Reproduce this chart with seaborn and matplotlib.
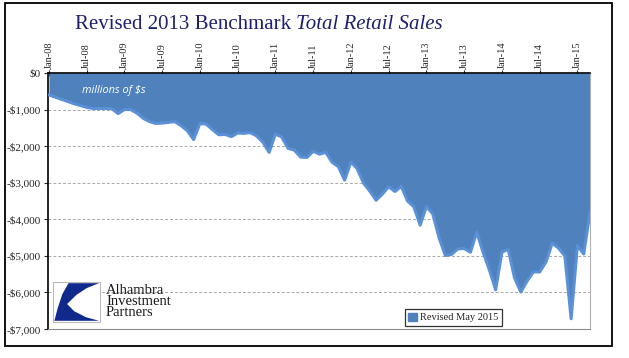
import numpy as np
import pandas as pd
import matplotlib
matplotlib.use("Agg")
import matplotlib.pyplot as plt
import seaborn as sns
from matplotlib.patches import Rectangle, Polygon, Patch
from matplotlib.ticker import FuncFormatter, MultipleLocator

# --- DATA (millions of $, Jan-08 .. Mar-15, monthly) ---
revision_values = [
    -600, -660, -720, -780, -840, -890, -940, -970, -970, -970, -980, -1110,
    -1000, -1000, -1100, -1240, -1330, -1380, -1370, -1350, -1330, -1440, -1580, -1820,
    -1380, -1400, -1550, -1690, -1680, -1740, -1640, -1650, -1630, -1720, -1890, -2170,
    -1670, -1750, -2060, -2110, -2300, -2310, -2140, -2220, -2170, -2440, -2560, -2930,
    -2430, -2620, -3010, -3230, -3480, -3310, -3110, -3240, -3100, -3500, -3660, -4160,
    -3650, -3850, -4500, -4990, -4960, -4810, -4800, -4900, -4350, -4900, -5380, -5930,
    -4900, -4820, -5600, -5990, -5690, -5440, -5440, -5170, -4650, -4790, -5000, -6720,
    -4720, -4950, -3800,
]
tick_labels = ["Jan-08", "Jul-08", "Jan-09", "Jul-09", "Jan-10", "Jul-10", "Jan-11",
               "Jul-11", "Jan-12", "Jul-12", "Jan-13", "Jul-13", "Jan-14", "Jul-14", "Jan-15"]
legend_label = "Revised May 2015"

FILL = "#4F81BD"
EDGE = "#5A90D6"
NAVY = "#1F1F6B"

df = pd.DataFrame({"month": np.arange(len(revision_values)), "value": revision_values})

sns.set_theme(style="white")
plt.rcParams["font.family"] = ["Liberation Serif", "DejaVu Serif"]

fig = plt.figure(figsize=(6.29, 3.58), dpi=100)
W, H = 629, 358
ax = fig.add_axes([48 / W, 1 - 329 / H, (590 - 48) / W, (329 - 73) / H])

# area + outline
ax.fill_between(df["month"], df["value"], 0, color=FILL, linewidth=0, zorder=2)
sns.lineplot(data=df, x="month", y="value", color=EDGE, linewidth=2.2, ax=ax, zorder=3)

ax.set_xlim(-0.15, len(revision_values) - 1)
ax.set_ylim(-7000, 0)

# axes styling
ax.xaxis.tick_top()
ax.set_xticks(np.arange(len(tick_labels)) * 6)
ax.set_xticklabels(tick_labels, rotation=90, fontsize=7.5)
ax.tick_params(axis="x", direction="inout", length=4, width=0.8, pad=1, top=True, bottom=False)
ax.yaxis.set_major_locator(MultipleLocator(1000))
ax.yaxis.set_major_formatter(FuncFormatter(lambda v, p: "$0" if v == 0 else f"-${abs(v):,.0f}"))
ax.tick_params(axis="y", direction="out", length=3, width=0.8, pad=2, labelsize=8, left=True)
ax.set_xlabel("")
ax.set_ylabel("")
for y in range(-6000, 0, 1000):
    ax.axhline(y, color="#A8A8A8", linewidth=0.7, linestyle=(0, (3, 2)), zorder=1)

ax.spines["left"].set_color("black")
ax.spines["left"].set_linewidth(1.2)
ax.spines["top"].set_color("black")
ax.spines["top"].set_linewidth(1.2)
ax.spines["top"].set_zorder(5)
ax.spines["bottom"].set_color("#8C8C8C")
ax.spines["bottom"].set_linewidth(0.8)
ax.spines["right"].set_color("#B0B0B0")
ax.spines["right"].set_linewidth(0.8)

ax.text(0.062, 0.955, "millions of $s", transform=ax.transAxes, color="white",
        fontsize=7.8, style="italic", family=["Open Sans", "DejaVu Sans"], va="top", zorder=6)

# legend
leg = ax.legend(handles=[Patch(facecolor=FILL, edgecolor=FILL)], labels=[legend_label],
                loc="lower left", bbox_to_anchor=(0.658, 0.012), frameon=True, fancybox=False,
                fontsize=7.5, handlelength=0.8, handleheight=0.8, handletextpad=0.3,
                borderpad=0.35, borderaxespad=0)
leg.get_frame().set_edgecolor("black")
leg.get_frame().set_linewidth(0.9)

# title (upright + italic parts)
t1 = fig.text(75 / W, 1 - 29 / H, "Revised 2013 Benchmark ", fontsize=15, color=NAVY,
              va="baseline", ha="left")
fig.canvas.draw()
bb = t1.get_window_extent(renderer=fig.canvas.get_renderer())
fig.text(bb.x1 / W, 1 - 29 / H, "Total Retail Sales", fontsize=15, color=NAVY,
         style="italic", va="baseline", ha="left")

# logo
lx0, ly0, lw, lh = 53 / W, 1 - 322 / H, 47 / W, 40 / H
fig.patches.append(Rectangle((lx0, ly0), lw, lh, transform=fig.transFigure, facecolor="white",
                             edgecolor="#B8B8B8", linewidth=0.8, zorder=10))
shape = [(0.33, 0.97), (0.98, 0.97), (0.72, 0.85), (0.5, 0.68), (0.3, 0.45),
         (0.45, 0.27), (0.7, 0.12), (0.98, 0.03), (0.03, 0.03), (0.1, 0.35), (0.2, 0.7)]
shape_fig = [(lx0 + u * lw, ly0 + v * lh) for u, v in shape]
fig.patches.append(Polygon(shape_fig, closed=True, transform=fig.transFigure,
                           facecolor="#0F2A8C", edgecolor="none", zorder=11))
fig.text(106 / W, 1 - 284 / H, "Alhambra\nInvestment\nPartners", fontsize=10.5,
         color="#1A1A1A", va="top", ha="left", linespacing=0.82, zorder=12)

# outer frame
fig.patches.append(Rectangle((5 / W, 1 - 346 / H), 607 / W, 343 / H, transform=fig.transFigure,
                             facecolor="none", edgecolor="black", linewidth=1.3, zorder=20))

fig.savefig("out.png", dpi=100)
